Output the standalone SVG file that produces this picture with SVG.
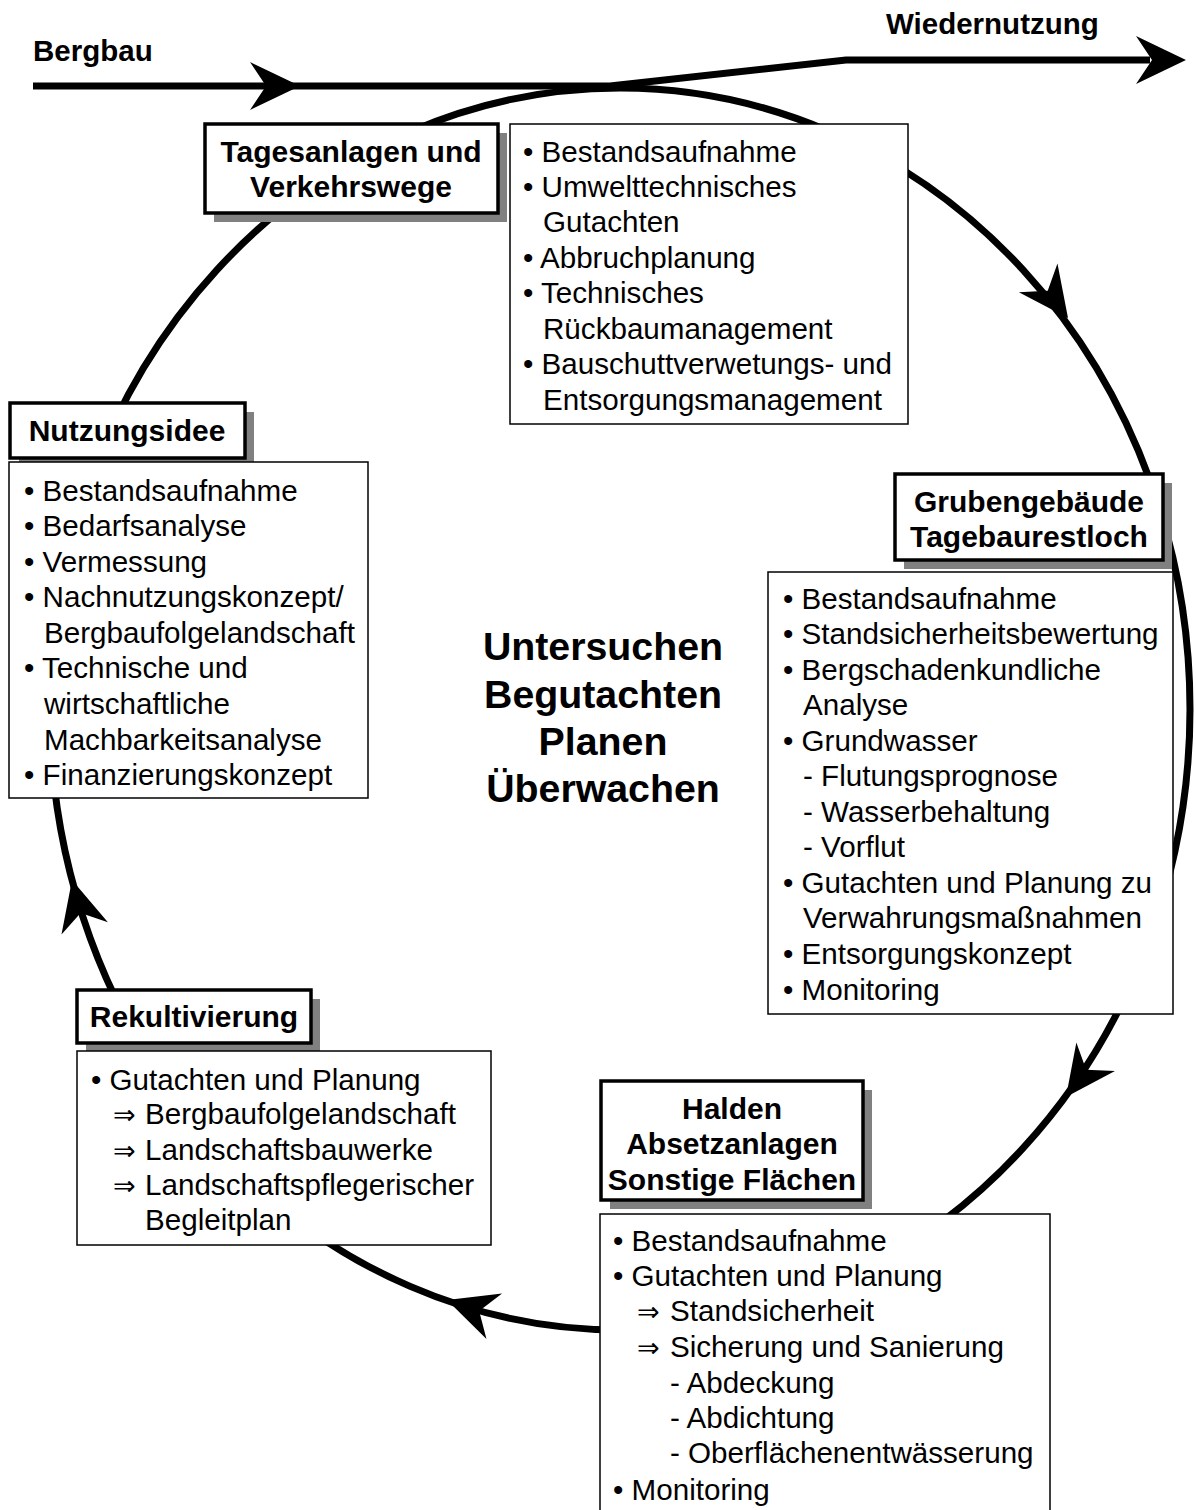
<svg xmlns="http://www.w3.org/2000/svg" xmlns:xlink="http://www.w3.org/1999/xlink" width="1196" height="1510" viewBox="0 0 1196 1510">
<style>
text{font-family:"Liberation Sans","DejaVu Sans",Arial,sans-serif;fill:#000}
.t{font-size:30px;font-weight:bold;text-anchor:middle}
.h{font-size:29.5px;font-weight:bold}
.b{font-size:29.6px}
.c{font-size:39.3px;font-weight:bold;text-anchor:middle}
.sym{font-family:"DejaVu Sans","Liberation Sans",sans-serif;font-size:27px}
.tb{fill:#fff;stroke:#000;stroke-width:3.5}
.sh{fill:#808080}
.lb{fill:#fff;stroke:#000;stroke-width:1.5}
.ln{fill:none;stroke:#000;stroke-width:7}
</style>
<defs>
<path id="ah" d="M0,0 L-50,-24 L-34,0 L-50,24 Z" fill="#000"/>
</defs>
<rect width="1196" height="1510" fill="#fff"/>

<g id="connectors">
<ellipse class="ln" cx="620" cy="709" rx="570" ry="621"/>
<polyline class="ln" points="33,86 610,86 846,60 1150,60"/>
<use xlink:href="#ah" transform="translate(300,86)"/>
<use xlink:href="#ah" transform="translate(1186,60)"/>
<use xlink:href="#ah" transform="translate(1068,318) rotate(53.4)"/>
<use xlink:href="#ah" transform="translate(1066,1097) rotate(126.4)"/>
<use xlink:href="#ah" transform="translate(447,1300) rotate(199)"/>
<use xlink:href="#ah" transform="translate(72,880) rotate(255.3)"/>
</g>

<g id="labels">
<text class="h" x="33" y="61">Bergbau</text>
<text class="h" x="886" y="34">Wiedernutzung</text>
</g>

<g id="center">
<text class="c" x="603" y="660">Untersuchen</text>
<text class="c" x="603" y="708">Begutachten</text>
<text class="c" x="603" y="755">Planen</text>
<text class="c" x="603" y="802">Überwachen</text>
</g>

<g id="tagesanlagen">
<rect class="sh" x="214" y="133" width="293" height="89"/>
<rect class="tb" x="205" y="124" width="293" height="89"/>
<text class="t" x="351" y="162">Tagesanlagen und</text>
<text class="t" x="351" y="197">Verkehrswege</text>
<rect class="lb" x="510" y="124" width="398" height="300"/>
<text class="b" x="523" y="162">• Bestandsaufnahme</text>
<text class="b" x="523" y="197">• Umwelttechnisches</text>
<text class="b" x="543" y="232">Gutachten</text>
<text class="b" x="523" y="268">• Abbruchplanung</text>
<text class="b" x="523" y="303">• Technisches</text>
<text class="b" x="543" y="339">Rückbaumanagement</text>
<text class="b" x="523" y="374">• Bauschuttverwetungs- und</text>
<text class="b" x="543" y="410">Entsorgungsmanagement</text>
</g>

<g id="nutzungsidee">
<rect class="sh" x="19" y="412" width="235" height="55"/>
<rect class="tb" x="10" y="403" width="235" height="55"/>
<text class="t" x="127" y="441">Nutzungsidee</text>
<rect class="lb" x="9" y="462" width="359" height="336"/>
<text class="b" x="24" y="501">• Bestandsaufnahme</text>
<text class="b" x="24" y="536">• Bedarfsanalyse</text>
<text class="b" x="24" y="572">• Vermessung</text>
<text class="b" x="24" y="607">• Nachnutzungskonzept/</text>
<text class="b" x="44" y="643">Bergbaufolgelandschaft</text>
<text class="b" x="24" y="678">• Technische und</text>
<text class="b" x="44" y="714">wirtschaftliche</text>
<text class="b" x="44" y="750">Machbarkeitsanalyse</text>
<text class="b" x="24" y="785">• Finanzierungskonzept</text>
</g>

<g id="grubengebaeude">
<rect class="sh" x="904" y="483" width="268" height="86"/>
<rect class="tb" x="895" y="474" width="268" height="86"/>
<text class="t" x="1029" y="512">Grubengebäude</text>
<text class="t" x="1029" y="547">Tagebaurestloch</text>
<rect class="lb" x="768" y="572" width="405" height="442"/>
<text class="b" x="783" y="609">• Bestandsaufnahme</text>
<text class="b" x="783" y="644">• Standsicherheitsbewertung</text>
<text class="b" x="783" y="680">• Bergschadenkundliche</text>
<text class="b" x="803" y="715">Analyse</text>
<text class="b" x="783" y="751">• Grundwasser</text>
<text class="b" x="803" y="786">- Flutungsprognose</text>
<text class="b" x="803" y="822">- Wasserbehaltung</text>
<text class="b" x="803" y="857">- Vorflut</text>
<text class="b" x="783" y="893">• Gutachten und Planung zu</text>
<text class="b" x="803" y="928">Verwahrungsmaßnahmen</text>
<text class="b" x="783" y="964">• Entsorgungskonzept</text>
<text class="b" x="783" y="1000">• Monitoring</text>
</g>

<g id="rekultivierung">
<rect class="sh" x="86" y="999" width="234" height="53"/>
<rect class="tb" x="77" y="990" width="234" height="53"/>
<text class="t" x="194" y="1027">Rekultivierung</text>
<rect class="lb" x="77" y="1051" width="414" height="194"/>
<text class="b" x="91" y="1090">• Gutachten und Planung</text>
<text class="sym" x="113" y="1124">⇒</text>
<text class="b" x="145" y="1124">Bergbaufolgelandschaft</text>
<text class="sym" x="113" y="1160">⇒</text>
<text class="b" x="145" y="1160">Landschaftsbauwerke</text>
<text class="sym" x="113" y="1195">⇒</text>
<text class="b" x="145" y="1195">Landschaftspflegerischer</text>
<text class="b" x="145" y="1230">Begleitplan</text>
</g>

<g id="halden">
<rect class="sh" x="610" y="1090" width="262" height="119"/>
<rect class="tb" x="601" y="1081" width="262" height="119"/>
<text class="t" x="732" y="1119">Halden</text>
<text class="t" x="732" y="1154">Absetzanlagen</text>
<text class="t" x="732" y="1190">Sonstige Flächen</text>
<rect class="lb" x="600" y="1214" width="450" height="310"/>
<text class="b" x="613" y="1251">• Bestandsaufnahme</text>
<text class="b" x="613" y="1286">• Gutachten und Planung</text>
<text class="sym" x="637" y="1321">⇒</text>
<text class="b" x="670" y="1321">Standsicherheit</text>
<text class="sym" x="637" y="1357">⇒</text>
<text class="b" x="670" y="1357">Sicherung und Sanierung</text>
<text class="b" x="670" y="1393">- Abdeckung</text>
<text class="b" x="670" y="1428">- Abdichtung</text>
<text class="b" x="670" y="1463">- Oberflächenentwässerung</text>
<text class="b" x="613" y="1500">• Monitoring</text>
</g>
</svg>
